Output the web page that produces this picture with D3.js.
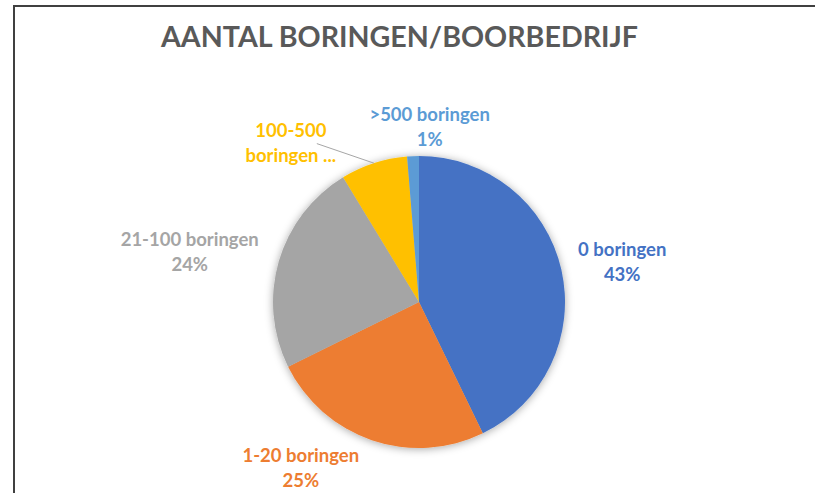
<!DOCTYPE html>
<html>
<head>
<meta charset="utf-8">
<script src="https://cdn.jsdelivr.net/npm/d3@7"></script>
<style>
  html, body { margin: 0; padding: 0; background: #fff; }
  svg { display: block; }
</style>
</head>
<body>
<div id="chart"></div>
<script>
const title = "AANTAL BORINGEN/BOORBEDRIJF";

const categories = ["0 boringen", "1-20 boringen", "21-100 boringen", "100-500 boringen", ">500 boringen"];
const shares     = [42.8, 24.9, 23.6, 7.4, 1.3];
const colors     = ["#4472C4", "#ED7D31", "#A5A5A5", "#FFC000", "#5B9BD5"];

// label text as it appears (the 100-500 one is cut off in the original)
const labelLines = [
  ["0 boringen", "43%"],
  ["1-20 boringen", "25%"],
  ["21-100 boringen", "24%"],
  ["100-500", "boringen ..."],
  [">500 boringen", "1%"]
];

const width = 815, height = 493;
const cx = 419, cy = 302, radius = 146;

// how far each label is pushed away from its default spot
const labelNudge = [[4, 5], [-52, -28], [-33, 7], [-65, 35], [19, 29]];

const svg = d3.select("#chart")
  .append("svg")
  .attr("width", width)
  .attr("height", height);

const defs = svg.append("defs");
const shadow = defs.append("filter")
  .attr("id", "shadow")
  .attr("x", "-20%").attr("y", "-20%")
  .attr("width", "140%").attr("height", "140%");
shadow.append("feDropShadow")
  .attr("dx", 0).attr("dy", 1)
  .attr("stdDeviation", 4)
  .attr("flood-color", "#000")
  .attr("flood-opacity", 0.35);

// chart frame
svg.append("rect")
  .attr("x", 14).attr("y", 6)
  .attr("width", 820).attr("height", 520)
  .attr("fill", "#fff")
  .attr("stroke", "#404040")
  .attr("stroke-width", 2);

svg.append("text")
  .attr("x", 161)
  .attr("y", 47)
  .attr("textLength", 477)
  .attr("lengthAdjust", "spacingAndGlyphs")
  .attr("font-family", "Lato, 'Open Sans', sans-serif")
  .attr("font-weight", 700)
  .attr("font-size", 28)
  .attr("fill", "#595959")
  .text(title);

const pie = d3.pie().sort(null).value(d => d)(shares);
const arc = d3.arc().innerRadius(0).outerRadius(radius);
const labelArc = d3.arc().innerRadius(radius * 1.4).outerRadius(radius * 1.4);
const edgeArc = d3.arc().innerRadius(radius).outerRadius(radius);

const g = svg.append("g")
  .attr("transform", `translate(${cx},${cy})`);

g.append("g")
  .attr("filter", "url(#shadow)")
  .selectAll("path")
  .data(pie)
  .join("path")
  .attr("d", arc)
  .attr("fill", (d, i) => colors[i]);

// leader line for the small yellow slice
const yi = 3;
const yEnd = edgeArc.centroid(pie[yi]);
const yLab = labelArc.centroid(pie[yi]);
g.append("line")
  .attr("x1", yLab[0] + labelNudge[yi][0] + 26)
  .attr("y1", yLab[1] + labelNudge[yi][1] + 1)
  .attr("x2", yEnd[0])
  .attr("y2", yEnd[1])
  .attr("stroke", "#a6a6a6")
  .attr("stroke-width", 1);

const labels = g.selectAll("text.lbl")
  .data(pie)
  .join("text")
  .attr("class", "lbl")
  .attr("text-anchor", "middle")
  .attr("font-family", "Lato, 'Open Sans', sans-serif")
  .attr("font-weight", 700)
  .attr("font-size", 18.5)
  .attr("fill", (d, i) => colors[i])
  .attr("transform", (d, i) => {
    const c = labelArc.centroid(d);
    return `translate(${c[0] + labelNudge[i][0]},${c[1] + labelNudge[i][1]})`;
  });

labels.selectAll("tspan")
  .data((d, i) => labelLines[i].map((t, k) => ({ t, k })))
  .join("tspan")
  .attr("x", 0)
  .attr("y", d => d.k === 0 ? -12.5 : 12.5)
  .attr("dominant-baseline", "central")
  .text(d => d.t);
</script>
</body>
</html>
